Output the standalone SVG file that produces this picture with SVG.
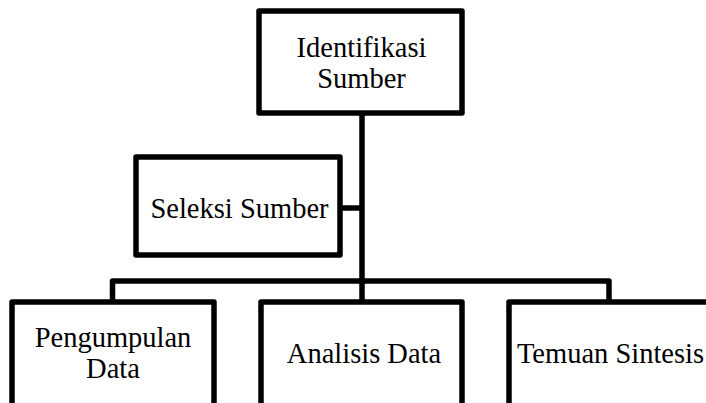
<svg xmlns="http://www.w3.org/2000/svg" width="706" height="403" viewBox="0 0 706 403">
<style>
.box{fill:#fff;stroke:#000;stroke-width:5.5;stroke-linejoin:round}
.ln{fill:none;stroke:#000;stroke-width:5.5;stroke-linejoin:round}
.t{font-family:'Liberation Serif','Times New Roman',Tinos,Times,'DejaVu Serif',serif;font-size:28.5px;fill:#000;text-anchor:middle}
</style>
<rect width="706" height="403" fill="#fff"/>
<g id="connectors">
<path class="ln" d="M362,113 V302"/>
<path class="ln" d="M340,208 H362"/>
<path class="ln" d="M112.5,302 V281 H609 V302"/>
</g>
<g id="identifikasi">
<rect class="box" x="259" y="11" width="203" height="102"/>
<text class="t" x="361.5" y="56.7" font-family="Liberation Serif, serif">Identifikasi</text>
<text class="t" x="361.5" y="88.3" font-family="Liberation Serif, serif">Sumber</text>
</g>
<g id="seleksi">
<rect class="box" x="136" y="157" width="204" height="98"/>
<text class="t" x="239.5" y="218.3" font-family="Liberation Serif, serif">Seleksi Sumber</text>
</g>
<g id="pengumpulan">
<rect class="box" x="12" y="302" width="202" height="120"/>
<text class="t" x="113" y="346.7" font-family="Liberation Serif, serif">Pengumpulan</text>
<text class="t" x="113" y="378.3" font-family="Liberation Serif, serif">Data</text>
</g>
<g id="analisis">
<rect class="box" x="261" y="302" width="201" height="120"/>
<text class="t" x="364" y="363.3" font-family="Liberation Serif, serif">Analisis Data</text>
</g>
<g id="temuan">
<rect class="box" x="509" y="302" width="210" height="120"/>
<text class="t" x="610.5" y="363.3" font-family="Liberation Serif, serif">Temuan Sintesis</text>
</g>
</svg>
